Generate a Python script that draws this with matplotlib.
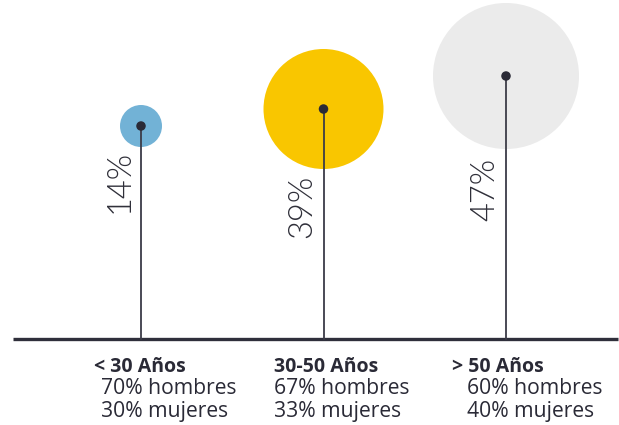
import matplotlib
matplotlib.use("Agg")
import matplotlib.pyplot as plt

# ---- data ----
categories = ["< 30 Años", "30-50 Años", "> 50 Años"]
shares = [14, 39, 47]
men = [70, 67, 60]
women = [30, 33, 40]
stem_heights = [213, 230, 263]          # height of each bubble above the baseline (px units)

# ---- style ----
radii_px = [21, 60, 73]
colors = ["#72b2d6", "#f9c600", "#ebebeb"]
ink = "#2f2f3b"
title_dx = [-47, -50, -54]
line_dx = [-40, -50, -39]
label_gap = [3, 6, 9]

W, H, DPI = 619, 425, 100
fig = plt.figure(figsize=(W / DPI, H / DPI), dpi=DPI)
ax = fig.add_axes([0, 0, 1, 1])
ax.set_axis_off()

sx = 182.5
x0 = 141
ax.set_xlim(-x0 / sx, (W - x0) / sx)
base_px = 339
ax.set_ylim(-(H - base_px), base_px)

pfam = ["Lato", "DejaVu Sans"]
lfam = ["Open Sans", "DejaVu Sans"]

ax.plot([(13 - x0) / sx, (618 - x0) / sx], [0, 0], color=ink, lw=2.4,
        solid_capstyle="butt", zorder=2)

pt = 72 / DPI
for i, (cat, s, h, r, c) in enumerate(zip(categories, shares, stem_heights, radii_px, colors)):
    ax.scatter([i], [h], s=(2 * r * pt) ** 2, color=c, edgecolors="none", zorder=1)
    ax.plot([i, i], [0, h], color="#3c3c48", lw=1.3, zorder=3)
    ax.scatter([i], [h], s=(9.5 * pt) ** 2, color="#2a2a36", edgecolors="none", zorder=4)
    ax.annotate(f"{s}%", xy=(i, h - r - label_gap[i]), xytext=(-6, 0), textcoords="offset pixels",
                rotation=90, ha="right", va="top", fontsize=23.5, family=pfam,
                fontweight=300, color="#2f2f39")
    ax.annotate(cat, xy=(i, 0), xytext=(title_dx[i], -33), textcoords="offset pixels",
                ha="left", va="baseline", fontsize=14, family=lfam,
                fontweight="bold", color="#2a2a36")
    ax.annotate(f"{men[i]}% hombres", xy=(i, 0), xytext=(line_dx[i], -55),
                textcoords="offset pixels", ha="left", va="baseline", fontsize=15.2,
                family=lfam, color="#2a2a36")
    ax.annotate(f"{women[i]}% mujeres", xy=(i, 0), xytext=(line_dx[i], -78),
                textcoords="offset pixels", ha="left", va="baseline", fontsize=15.2,
                family=lfam, color="#2a2a36")

fig.savefig("out.png", dpi=DPI, facecolor="white")
